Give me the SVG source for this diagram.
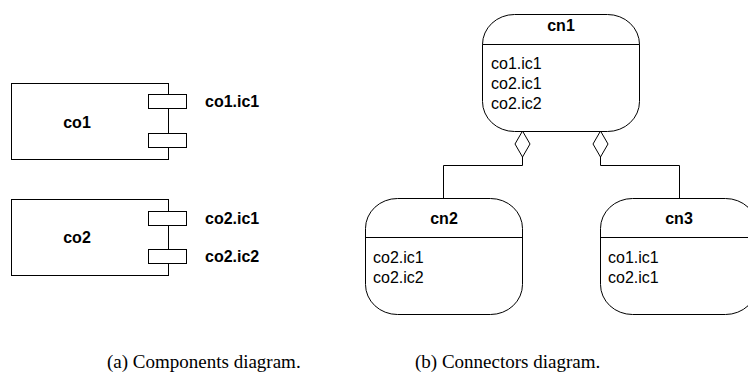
<svg xmlns="http://www.w3.org/2000/svg" width="748" height="383" viewBox="0 0 748 383">
<style>
.box{fill:#fff;stroke:#000;stroke-width:1}
.b{font-family:"Liberation Sans",Arial,sans-serif;font-weight:bold;font-size:16px;fill:#000}
.r{font-family:"Liberation Sans",Arial,sans-serif;font-size:16px;fill:#000}
.cap{font-family:"Liberation Serif","Times New Roman",serif;font-size:19px;fill:#000}
.ln{fill:none;stroke:#000;stroke-width:1}
</style>
<rect width="748" height="383" fill="#fff"/>
<g id="co1">
<rect class="box" x="11.5" y="83.5" width="157" height="76"/>
<rect class="box" x="148.5" y="94.5" width="38" height="14"/>
<rect class="box" x="148.5" y="133.5" width="38" height="14"/>
<text class="b" x="77" y="128" text-anchor="middle">co1</text>
<text class="b" x="205" y="107">co1.ic1</text>
</g>
<g id="co2">
<rect class="box" x="11.5" y="199.5" width="157" height="76"/>
<rect class="box" x="148.5" y="211.5" width="38" height="14"/>
<rect class="box" x="148.5" y="249.5" width="38" height="14"/>
<text class="b" x="77" y="243" text-anchor="middle">co2</text>
<text class="b" x="205" y="224">co2.ic1</text>
<text class="b" x="205" y="262">co2.ic2</text>
</g>
<g id="connectors">
<path class="ln" d="M522.5,157 V165.5 H443.5 V198"/>
<path class="ln" d="M600.5,157 V165.5 H679.5 V198"/>
<path class="box" d="M522.5,131 L530,144 L522.5,157 L515,144 Z"/>
<path class="box" d="M600.5,131 L608,144 L600.5,157 L593,144 Z"/>
</g>
<g id="cn1">
<rect class="box" x="482.5" y="14.5" width="157" height="117" rx="32" ry="30"/>
<line class="ln" x1="482.5" y1="44.5" x2="639.5" y2="44.5"/>
<text class="b" x="561" y="31" text-anchor="middle">cn1</text>
<text class="r" x="491" y="69">co1.ic1</text>
<text class="r" x="491" y="89">co2.ic1</text>
<text class="r" x="491" y="109">co2.ic2</text>
</g>
<g id="cn2">
<rect class="box" x="365.5" y="198.5" width="157" height="116" rx="32" ry="30"/>
<line class="ln" x1="365.5" y1="237.5" x2="522.5" y2="237.5"/>
<text class="b" x="444" y="224" text-anchor="middle">cn2</text>
<text class="r" x="373" y="263">co2.ic1</text>
<text class="r" x="373" y="283">co2.ic2</text>
</g>
<g id="cn3">
<rect class="box" x="600.5" y="198.5" width="157" height="116" rx="32" ry="30"/>
<line class="ln" x1="600.5" y1="237.5" x2="757.5" y2="237.5"/>
<text class="b" x="679" y="224" text-anchor="middle">cn3</text>
<text class="r" x="608" y="263">co1.ic1</text>
<text class="r" x="608" y="283">co2.ic1</text>
</g>
<text class="cap" x="107" y="368">(a) Components diagram.</text>
<text class="cap" x="415" y="368">(b) Connectors diagram.</text>
</svg>
